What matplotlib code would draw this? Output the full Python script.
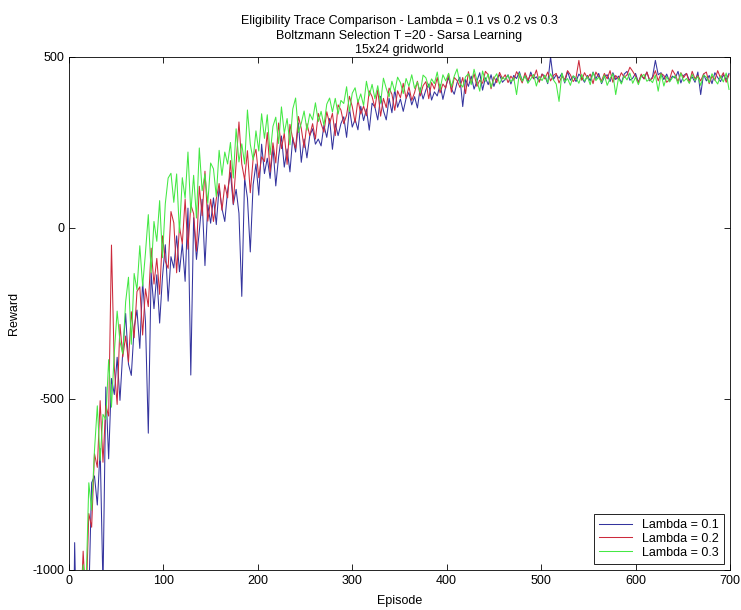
import matplotlib
matplotlib.use('Agg')
import matplotlib.pyplot as plt

plt.rcParams['font.family'] = ['Liberation Sans', 'DejaVu Sans']
plt.rcParams['axes.unicode_minus'] = False

# Episodes sampled every 3 episodes (0 .. 699)
episodes = list(range(0, 700, 3))

reward_lambda_01 = [
    -1555, -1620, -920, -1330, -1065, -1175, -1005, -1080, -745, -725,
    -810, -645, -1050, -465, -675, -440, -487, -378, -504, -359,
    -250, -398, -431, -291, -240, -352, -157, -274, -600, -131,
    -236, -137, -278, -143, -49, -214, -84, -117, -23, -128,
    -46, -156, 58, -430, 30, -92, -10, 84, -110, 68,
    14, 88, 10, 119, 57, 19, 109, 162, 68, 113,
    43, -200, 146, 87, -70, 126, 187, 96, 245, 159,
    204, 145, 238, 123, 208, 269, 178, 231, 164, 265,
    222, 307, 192, 260, 205, 270, 290, 245, 260, 240,
    300, 265, 320, 230, 305, 270, 305, 325, 265, 350,
    295, 318, 287, 356, 314, 348, 286, 365, 353, 316,
    385, 343, 316, 379, 337, 405, 353, 377, 341, 379,
    396, 360, 384, 351, 410, 377, 404, 421, 374, 398,
    386, 420, 376, 413, 440, 407, 391, 425, 441, 355,
    434, 414, 444, 406, 429, 454, 403, 439, 419, 448,
    414, 437, 448, 426, 435, 448, 421, 446, 437, 457,
    430, 446, 426, 456, 436, 442, 428, 450, 444, 422,
    500, 434, 448, 438, 452, 424, 458, 432, 444, 428,
    450, 440, 426, 446, 430, 456, 436, 452, 422, 442,
    448, 428, 454, 434, 444, 424, 450, 458, 432, 438,
    452, 426, 446, 436, 456, 430, 442, 490, 448, 454,
    434, 450, 428, 444, 438, 458, 424, 446, 452, 432,
    442, 426, 456, 390, 450, 430, 446, 422, 454, 440,
    428, 448, 434, 452,
]

reward_lambda_02 = [
    -1460, -1495, -1290, -1340, -1150, -945, -1105, -835, -875, -660,
    -700, -505, -685, -520, -550, -50, -409, -516, -282, -377,
    -316, -392, -245, -321, -186, -172, -313, -178, -230, -59,
    -164, -89, -194, -23, -97, -118, 48, 15, -131, 4,
    -46, 84, -62, 68, 42, -68, 122, 36, 166, 20,
    84, 19, 85, 130, 52, 126, 88, 197, 71, 188,
    310, 187, 141, 226, 103, 201, 230, 147, 208, 194,
    279, 164, 249, 190, 307, 232, 277, 186, 303, 260,
    233, 326, 291, 235, 305, 270, 305, 260, 335, 305,
    280, 340, 305, 335, 270, 360, 345, 305, 330, 385,
    355, 308, 375, 333, 356, 328, 401, 384, 352, 404,
    327, 379, 352, 409, 391, 344, 401, 381, 423, 379,
    413, 373, 396, 429, 386, 416, 428, 378, 425, 406,
    440, 395, 421, 409, 452, 397, 440, 431, 411, 440,
    393, 457, 423, 451, 414, 432, 423, 458, 448, 407,
    442, 425, 455, 436, 448, 425, 444, 432, 457, 443,
    424, 454, 432, 448, 438, 462, 426, 450, 436, 456,
    430, 446, 452, 424, 444, 434, 460, 448, 428, 440,
    490, 432, 454, 438, 450, 422, 456, 442, 430, 452,
    436, 460, 426, 446, 434, 454, 440, 448, 470, 458,
    444, 424, 450, 436, 456, 432, 438, 460, 430, 452,
    446, 426, 434, 462, 448, 428, 454, 440, 452, 424,
    458, 436, 446, 430, 450, 456, 422, 444, 432, 460,
    438, 454, 426, 448,
]

reward_lambda_03 = [
    -1455, -1520, -1270, -1110, -1175, -985, -1055, -745, -825, -650,
    -520, -680, -545, -560, -385, -524, -364, -243, -333, -368,
    -216, -144, -340, -133, -181, -52, -170, -72, 39, -131,
    19, -39, 80, -87, 71, 146, 160, 75, 158, -14,
    147, 87, 222, 45, 154, 29, 234, 109, 158, 72,
    190, 173, 92, 227, 154, 222, 187, 250, 146, 290,
    193, 246, 187, 345, 245, 199, 284, 225, 334, 262,
    331, 214, 297, 324, 247, 354, 277, 320, 243, 348,
    380, 279, 306, 342, 286, 334, 316, 366, 311, 341,
    300, 362, 380, 339, 379, 333, 373, 364, 413, 340,
    394, 410, 367, 392, 358, 429, 386, 420, 378, 416,
    365, 438, 408, 383, 429, 399, 441, 425, 393, 437,
    414, 448, 408, 427, 395, 447, 439, 411, 436, 422,
    456, 405, 448, 430, 452, 413, 444, 465, 423, 412,
    442, 451, 419, 464, 431, 400, 459, 429, 450, 411,
    437, 451, 421, 441, 433, 447, 427, 439, 390, 453,
    429, 445, 423, 435, 449, 415, 443, 431, 447, 425,
    451, 433, 421, 370, 453, 427, 437, 417, 445, 439,
    423, 449, 429, 443, 419, 455, 431, 441, 425, 447,
    417, 437, 451, 390, 439, 421, 445, 433, 453, 423,
    441, 419, 443, 449, 429, 435, 425, 447, 400, 451,
    415, 443, 427, 439, 445, 421, 453, 429, 437, 423,
    449, 431, 443, 417, 447, 441, 425, 451, 433, 421,
    445, 427, 453, 405,
]

labels = ['Lambda = 0.1', 'Lambda = 0.2', 'Lambda = 0.3']
colors = ['#34349e', '#cc2a3c', '#44e844']

fig = plt.figure(figsize=(7.41, 6.10), dpi=100)
ax = fig.add_axes([0.0931, 0.0656, 0.892, 0.841])

for series, label, color in zip(
        [reward_lambda_01, reward_lambda_02, reward_lambda_03], labels, colors):
    ax.plot(episodes, series, color=color, linewidth=0.75, label=label)

ax.set_xlim(0, 700)
ax.set_ylim(-1000, 500)
ax.set_xticks(range(0, 701, 100))
ax.set_yticks([-1000, -500, 0, 500])
ax.tick_params(direction='in', top=True, right=True, labelsize=9,
               length=4, width=0.6)
for spine in ax.spines.values():
    spine.set_linewidth(0.6)

ax.set_xlabel('Episode', fontsize=9, labelpad=6)
ax.set_ylabel('Reward', fontsize=9, labelpad=9)
ax.set_title('Eligibility Trace Comparison - Lambda = 0.1 vs 0.2 vs 0.3\n'
             'Boltzmann Selection T =20 - Sarsa Learning\n'
             '15x24 gridworld', fontsize=9, pad=3, linespacing=1.25)

leg = ax.legend(loc='lower right', fontsize=9, fancybox=False,
                edgecolor='black', framealpha=1, borderaxespad=0.5,
                handlelength=2.6, handletextpad=0.8, labelspacing=0.15)
leg.get_frame().set_linewidth(0.6)

plt.savefig('out.png', dpi=100)
